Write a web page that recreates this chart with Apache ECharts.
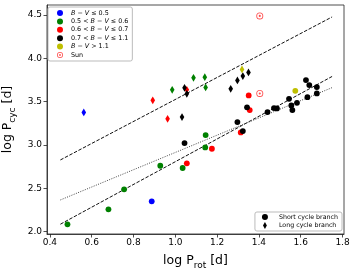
<!DOCTYPE html>
<html><head><meta charset="utf-8">
<script src="https://cdn.jsdelivr.net/npm/echarts@6/dist/echarts.min.js"></script>
<style>html,body{margin:0;padding:0;background:#fff}#c{width:360px;height:270px}</style>
</head><body><div id="c"></div><script>
// ---- data (log Prot, log Pcyc) ----
var xTicks = [0.4, 0.6, 0.8, 1.0, 1.2, 1.4, 1.6, 1.8];
var yTicks = [2.0, 2.5, 3.0, 3.5, 4.0, 4.5];
var blueShort = [[0.887, 2.350]];
var blueLong = [[0.562, 3.377]];
var greenShort = [[0.484, 2.085], [0.680, 2.258], [0.755, 2.489], [0.928, 2.761], [1.035, 2.735], [1.143, 2.973], [1.145, 3.115]];
var greenLong = [[0.985, 3.638], [1.087, 3.776], [1.141, 3.784], [1.145, 3.665]];
var redShort = [[1.055, 2.789], [1.175, 2.957], [1.351, 3.573], [1.356, 3.404], [1.313, 3.146]];
var redLong = [[0.892, 3.516], [0.963, 3.303], [1.055, 3.638]];
var blackShort = [[1.044, 3.023], [1.297, 3.265], [1.343, 3.435], [1.323, 3.161], [1.441, 3.381], [1.472, 3.427], [1.486, 3.423], [1.544, 3.534], [1.555, 3.458], [1.560, 3.404], [1.582, 3.488], [1.625, 3.750], [1.641, 3.692], [1.677, 3.669], [1.632, 3.553], [1.677, 3.596]];
var blackLong = [[1.044, 3.661], [1.055, 3.592], [1.032, 3.323], [1.265, 3.649], [1.297, 3.746], [1.323, 3.796], [1.350, 3.838]];
var yellowShort = [[1.574, 3.626]];
var yellowLong = [[1.319, 3.873]];
var sunPts = [[1.404, 3.596], [1.404, 4.491]];
var longFit = [[0.45, 2.828], [1.75, 4.479]];
var shortFit = [[0.45, 2.086], [1.75, 3.792]];
var allFit = [[0.45, 2.366], [1.75, 3.663]];
var groupNames = ['g1', 'g2', 'g3', 'g4', 'g5', 'Sun'];
var groupLabels = ['{i|B} − {i|V} ≤ 0.5', '0.5 < {i|B} − {i|V} ≤ 0.6', '0.6 < {i|B} − {i|V} ≤ 0.7', '0.7 < {i|B} − {i|V} ≤ 1.1', '{i|B} − {i|V} > 1.1', 'Sun'];
var branchNames = ['Short cycle branch', 'Long cycle branch'];

var FONT = 'DejaVu Sans';
var DIAMOND = 'path://M0,-10 L5.5,0 L0,10 L-5.5,0 Z';
var SUN = 'path://M-10,0 A10,10 0 1,1 10,0 A10,10 0 1,1 -10,0 Z M-7.5,0 A7.5,7.5 0 1,0 7.5,0 A7.5,7.5 0 1,0 -7.5,0 Z M-3,0 A3,3 0 1,1 3,0 A3,3 0 1,1 -3,0 Z';
var C = {b: '#0000ff', g: '#008000', r: '#ff0000', k: '#000000', y: '#bfbf00'};

function circ(name, data, color) {
  return {type: 'scatter', name: name, data: data, symbol: 'circle', symbolSize: 5.8,
    itemStyle: {color: color, opacity: 1}, z: 3, emphasis: {disabled: true}};
}
function diam(name, data, color) {
  return {type: 'scatter', name: name, data: data, symbol: DIAMOND, symbolSize: [4.6, 7.8],
    itemStyle: {color: color, opacity: 1}, z: 3, emphasis: {disabled: true}};
}
function fitLine(data, color, type) {
  return {type: 'line', data: data, symbol: 'none', silent: true, z: 2,
    lineStyle: {color: color, width: 1, type: type}};
}

var chart = echarts.init(document.getElementById('c'), null, {renderer: 'canvas'});
var tickFmt = function (v) { return v.toFixed(1); };
chart.setOption({
  animation: false,
  backgroundColor: '#fff',
  grid: {left: 47, right: 16, top: 5, bottom: 36, show: true, borderColor: '#222', borderWidth: 0.8,
    backgroundColor: 'transparent', containLabel: false, outerBoundsMode: 'none'},
  xAxis: {
    type: 'value', min: 0.386, max: 1.807,
    name: 'log P{s|rot} [d]', nameLocation: 'middle', nameGap: 17,
    nameTextStyle: {fontFamily: FONT, fontSize: 12.5, color: '#000', lineHeight: 18, verticalAlign: 'middle',
      rich: {s: {fontFamily: FONT, fontSize: 9, color: '#000', lineHeight: 9, verticalAlign: 'bottom'}}},
    axisLine: {show: true, lineStyle: {color: '#222', width: 0.8}},
    axisTick: {show: true, length: 3.5, customValues: xTicks, lineStyle: {color: '#222', width: 0.8}},
    axisLabel: {customValues: xTicks, formatter: tickFmt, fontFamily: FONT, fontSize: 9, color: '#000', margin: 4},
    splitLine: {show: false}
  },
  yAxis: {
    type: 'value', min: 1.973, max: 4.617,
    name: 'log P{s|cyc} [d]', nameLocation: 'middle', nameGap: 26, nameRotate: 90,
    nameTextStyle: {fontFamily: FONT, fontSize: 12.5, color: '#000', lineHeight: 18, verticalAlign: 'middle',
      rich: {s: {fontFamily: FONT, fontSize: 9, color: '#000', lineHeight: 9, verticalAlign: 'bottom'}}},
    axisLine: {show: true, lineStyle: {color: '#222', width: 0.8}},
    axisTick: {show: true, length: 3.5, customValues: yTicks, lineStyle: {color: '#222', width: 0.8}},
    axisLabel: {customValues: yTicks, formatter: tickFmt, fontFamily: FONT, fontSize: 9, color: '#000', margin: 5},
    splitLine: {show: false}
  },
  legend: [{
    data: groupNames, orient: 'vertical', left: 48, top: 7,
    padding: [3, 4, 3, 9], itemGap: 2.4, itemWidth: 6, itemHeight: 7,
    backgroundColor: '#fff', borderColor: '#bbb', borderWidth: 1, borderRadius: 2,
    selectedMode: false,
    formatter: function (n) { return groupLabels[groupNames.indexOf(n)]; },
    textStyle: {fontFamily: FONT, fontSize: 6.4, color: '#000', padding: [0, 0, 0, 3],
      rich: {i: {fontFamily: FONT, fontSize: 6.4, fontStyle: 'italic', color: '#000'}}}
  }, {
    data: branchNames, orient: 'vertical', right: 18, bottom: 39,
    padding: [2, 4, 2, 7], itemGap: 2, itemWidth: 6, itemHeight: 7,
    backgroundColor: '#fff', borderColor: '#bbb', borderWidth: 1, borderRadius: 2,
    selectedMode: false,
    textStyle: {fontFamily: FONT, fontSize: 6.3, color: '#000', padding: [0, 0, 0, 6]}
  }],
  series: [
    fitLine(longFit, '#111', [3.5, 1.6]),
    fitLine(shortFit, '#111', [3.5, 1.6]),
    fitLine(allFit, '#444', [1, 1.4]),
    circ('g1', blueShort, C.b), diam('g1d', blueLong, C.b),
    circ('g2', greenShort, C.g), diam('g2d', greenLong, C.g),
    circ('g3', redShort, C.r), diam('g3d', redLong, C.r),
    circ('g4', blackShort, C.k), diam('g4d', blackLong, C.k),
    circ('g5', yellowShort, C.y), diam('g5d', yellowLong, C.y),
    {type: 'scatter', name: 'Sun', data: sunPts, symbol: SUN, symbolSize: 7, symbolKeepAspect: true,
      itemStyle: {color: '#ff2020'}, z: 4},
    circ('Short cycle branch', [], C.k),
    diam('Long cycle branch', [], C.k)
  ]
});
</script></body></html>
